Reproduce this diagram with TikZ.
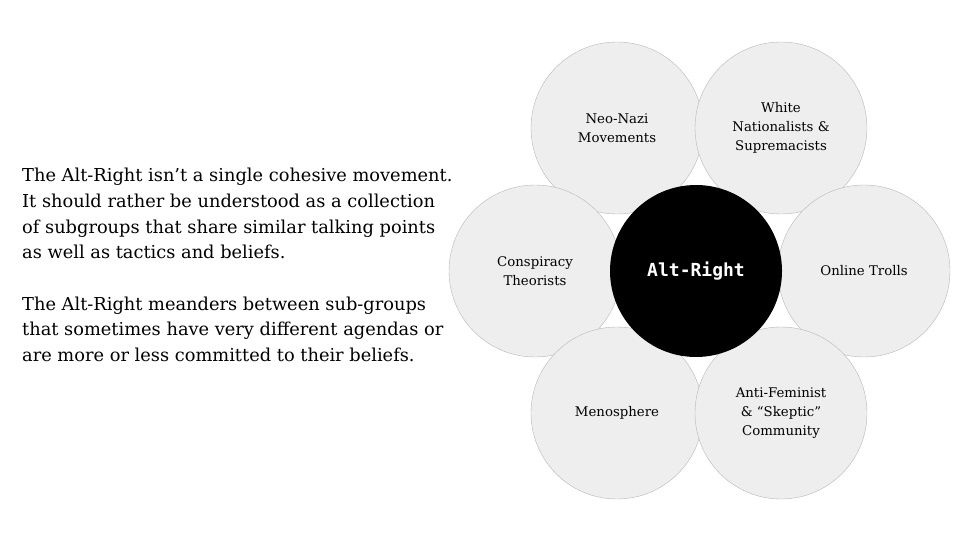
\documentclass[tikz,border=0pt]{standalone}
\usepackage{fontspec}
\setmainfont{DejaVu Serif}
\setmonofont{DejaVu Sans Mono}
\usepackage{tikz}
\definecolor{bubble}{HTML}{EEEEEE}
\definecolor{rim}{HTML}{B7B7B7}

\begin{document}
\begin{tikzpicture}[x=1pt,y=-1pt]
\useasboundingbox (0,0) rectangle (960,540);

\node[anchor=north west,align=left,inner sep=0pt,font=\fontsize{17.8}{25.7}\selectfont] (blurb) at (22,168)
  {The Alt-Right isn’t a single cohesive movement.\\
   It should rather be understood as a collection\\
   of subgroups that share similar talking points\\
   as well as tactics and beliefs.\\[25.7pt]
   The Alt-Right meanders between sub-groups\\
   that sometimes have very different agendas or\\
   are more or less committed to their beliefs.};

\begin{scope}[every node/.style={circle,draw=rim,fill=bubble,minimum size=172pt,inner sep=0pt,align=center,font=\fontsize{13.3}{19}\selectfont}]
\node (nazi) at (617,128) {Neo-Nazi\\Movements};
\node (white) at (781,128) {White\\Nationalists \&\\Supremacists};
\node (consp) at (535,271) {Conspiracy\\Theorists};
\node (trolls) at (864,271) {Online Trolls};
\node (meno) at (617,413) {Menosphere};
\node (skeptic) at (781,413) {Anti-Feminist\\\& “Skeptic”\\Community};
\end{scope}

\node[circle,fill=black,minimum size=172pt,text=white,font=\ttfamily\bfseries\fontsize{18}{18}\selectfont] (alt) at (696,271) {Alt-Right};
\end{tikzpicture}
\end{document}
